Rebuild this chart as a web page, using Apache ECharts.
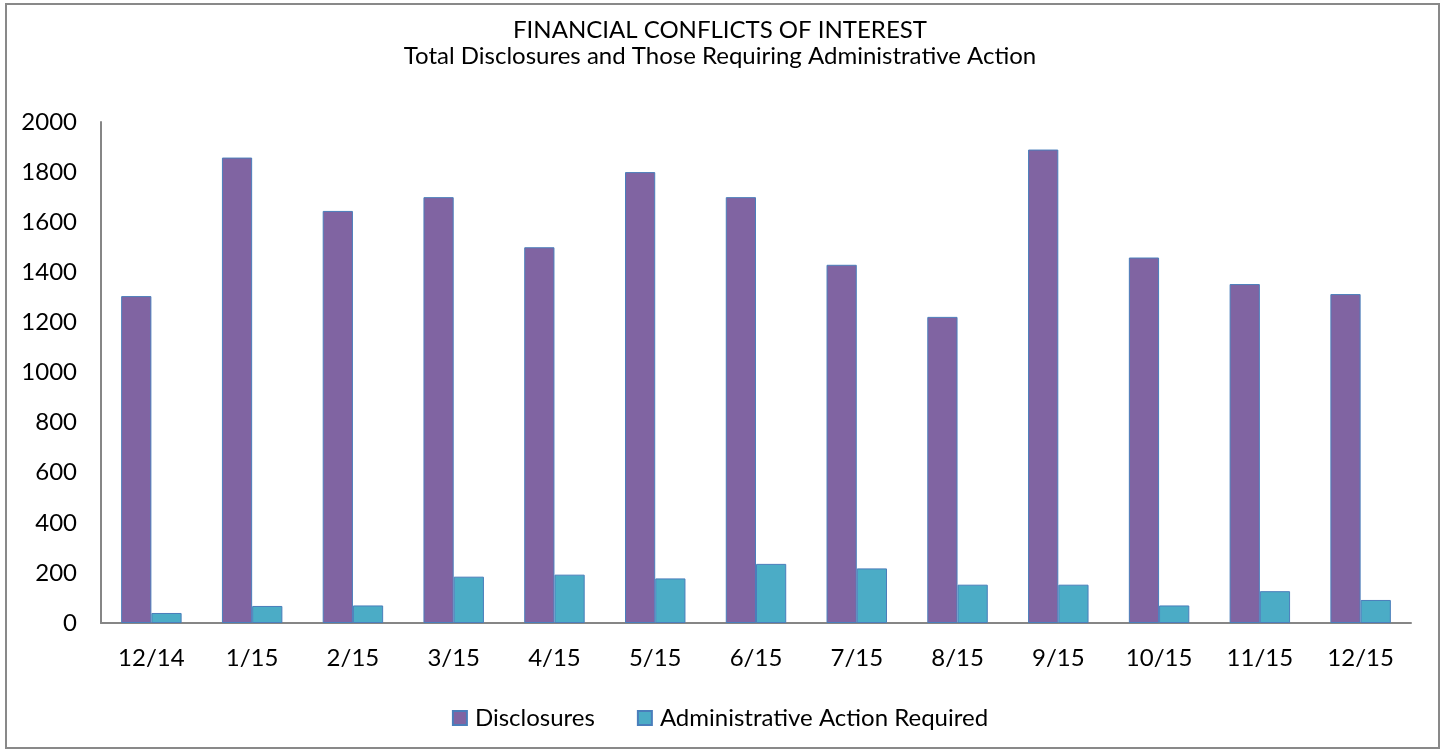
<!DOCTYPE html>
<html>
<head>
<meta charset="utf-8">
<script src="https://cdn.jsdelivr.net/npm/echarts@6/dist/echarts.min.js"></script>
<style>
  html, body { margin: 0; padding: 0; background: #fff; }
  .frame {
    position: absolute;
    left: 5px; top: 3px;
    width: 1431px; height: 742px;
    border: 2px solid #898989;
  }
  #chart { position: absolute; left: 0; top: 0; width: 1440px; height: 751px; }
</style>
</head>
<body>
<div class="frame"></div>
<div id="chart"></div>
<script>
  const months = ['12/14', '1/15', '2/15', '3/15', '4/15', '5/15', '6/15', '7/15', '8/15', '9/15', '10/15', '11/15', '12/15']
  const disclosures = [1305, 1858, 1645, 1700, 1500, 1800, 1700, 1430, 1222, 1890, 1459, 1353, 1313]
  const adminAction = [40, 68, 70, 185, 193, 178, 236, 218, 153, 153, 70, 127, 92]
  const yTicks = {min: 0, max: 2000, interval: 200}

  const font = 'Lato, "Open Sans", sans-serif'
  const edge = '#4a7ebb'
  const fs = 24

  let chart = echarts.init(document.getElementById('chart'))
  chart.setOption({
    animation: false,
    textStyle: {fontFamily: font},
    title: {
      text: 'FINANCIAL CONFLICTS OF INTEREST\nTotal Disclosures and Those Requiring Administrative Action',
      left: 'center',
      top: 12,
      textStyle: {fontFamily: font, fontSize: fs, fontWeight: 'normal', color: '#000', lineHeight: 26}
    },
    grid: {left: 101, right: 29, top: 122, bottom: 128},
    legend: {
      top: 701,
      left: 'center',
      itemWidth: 14,
      itemHeight: 14,
      itemGap: 42,
      textStyle: {fontFamily: font, fontSize: fs, color: '#000', padding: [0, 0, 0, 3]},
      data: [
        {name: 'Disclosures', icon: 'rect'},
        {name: 'Administrative Action Required', icon: 'rect'}
      ]
    },
    xAxis: {
      type: 'category',
      data: months,
      axisLine: {lineStyle: {color: '#868686', width: 2}},
      axisTick: {show: false},
      axisLabel: {color: '#000', fontSize: fs, margin: 23, fontFamily: font}
    },
    yAxis: {
      type: 'value',
      min: yTicks.min,
      max: yTicks.max,
      interval: yTicks.interval,
      splitLine: {show: false},
      axisLine: {show: true, lineStyle: {color: '#868686', width: 2}},
      axisTick: {show: false},
      axisLabel: {color: '#000', fontSize: fs, margin: 24, fontFamily: font, formatter: v => String(v)}
    },
    series: [
      {
        name: 'Disclosures',
        type: 'bar',
        barGap: '0%',
        barCategoryGap: '40%',
        itemStyle: {color: '#8064a2', borderColor: edge, borderWidth: 1},
        data: disclosures
      },
      {
        name: 'Administrative Action Required',
        type: 'bar',
        itemStyle: {color: '#4bacc6', borderColor: edge, borderWidth: 1},
        data: adminAction
      }
    ]
  })
</script>
</body>
</html>
